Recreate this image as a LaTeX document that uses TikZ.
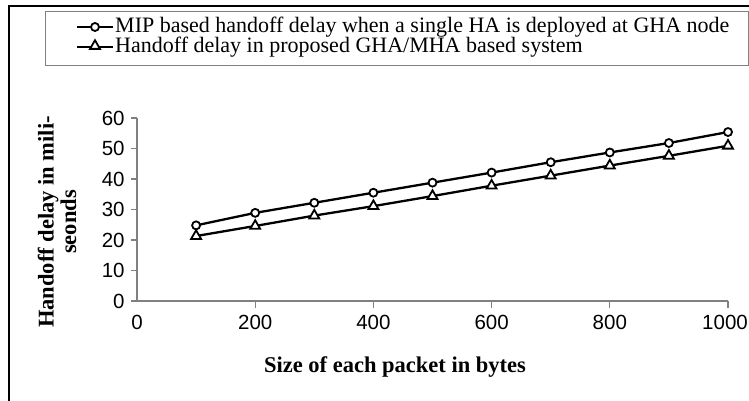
\documentclass[tikz,border=0pt]{standalone}
\usepackage{fontspec}
\setmainfont{Liberation Serif}
\newfontfamily\arialf{Liberation Sans}
\usetikzlibrary{shapes.geometric}
\definecolor{axisgray}{HTML}{808080}
\tikzset{
  circmark/.style={draw=black, circle, fill=white, minimum size=8pt, inner sep=0pt, line width=1.8pt},
  trimark/.style={draw=black, regular polygon, regular polygon sides=3, fill=white, minimum size=11.5pt, inner sep=0pt, line width=1.8pt},
  series/.style={line width=2.3pt, black},
  axisline/.style={axisgray, line width=1.1pt},
  ticklab/.style={font=\arialf\fontsize{20.5}{22}\selectfont, text=black},
  legtext/.style={font=\fontsize{22}{24}\selectfont, anchor=west, inner sep=0pt},
  axtitle/.style={font=\bfseries\fontsize{22.5}{22.5}\selectfont, align=center, inner sep=0pt}
}
\begin{document}
\begin{tikzpicture}[x=1pt,y=-1pt]
\useasboundingbox (0,0) rectangle (749,401);
% outer frame
\draw[line width=1.3pt] (9,401) -- (9,6) -- (749,6);
% legend box
\draw[axisgray, line width=1pt] (45,12) rectangle (748,66);
\coordinate (la1) at (77,27); \coordinate (lb1) at (113,27);
\coordinate (la2) at (77,47); \coordinate (lb2) at (113,47);
\draw[series] (la1) -- (lb1);
\node[circmark] (lm1) at (95,27) {};
\node[legtext] (lt1) at (115,27) {MIP based handoff delay when a single HA is deployed at GHA node};
\draw[series] (la2) -- (lb2);
\node[trimark] (lm2) at (95,46) {};
\node[legtext] (lt2) at (115,47) {Handoff delay in proposed GHA/MHA based system};
% plot area
\begin{scope}[shift={(137,301)}, x=0.591pt, y=3.05pt]
  \draw[axisline] (0,0) -- (0,60);
  \draw[axisline] (-10,0) -- (1000,0);
  \foreach \v in {0,10,...,60} {
    \draw[axisline] (0,\v) -- (-10,\v);
    \node[ticklab, anchor=east] (yl\v) at (-15,\v) {\v};
  }
  \foreach \v in {200,400,...,1000} {
    \draw[axisline] (\v,0) -- (\v,-2.2);
  }
  \foreach \v in {0,200,...,800} {
    \node[ticklab] (xl\v) at (\v,-7) {\v};
  }
  \node[ticklab, xshift=-3pt] (xl1000) at (1000,-7) {1000};
  % data
  \foreach \x/\a/\b [count=\i] in {100/24.8/21.3, 200/28.9/24.6, 300/32.2/28.0, 400/35.5/31.1, 500/38.8/34.4, 600/42.1/37.8, 700/45.5/41.1, 800/48.7/44.4, 900/51.8/47.6, 1000/55.4/50.9} {
    \coordinate (c\i) at (\x,\a);
    \coordinate (t\i) at (\x,\b);
  }
  \draw[series] (c1) \foreach \i in {2,...,10} { -- (c\i) };
  \draw[series] (t1) \foreach \i in {2,...,10} { -- (t\i) };
  \foreach \i in {1,...,10} {
    \node[circmark] (mc\i) at (c\i) {};
    \node[trimark] (mt\i) at (t\i) {};
  }
\end{scope}
\node[axtitle] (xtitle) at (395,367) {Size of each packet in bytes};
\node[axtitle, rotate=90] (ytitle) at (57,222) {Handoff delay in mili-\\seonds};
\end{tikzpicture}
\end{document}
